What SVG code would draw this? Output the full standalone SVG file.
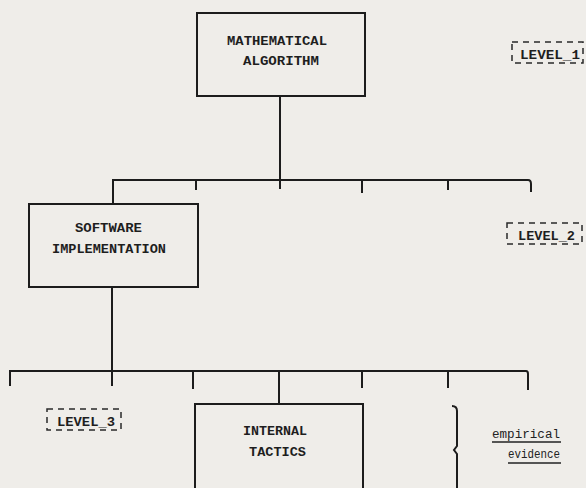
<svg xmlns="http://www.w3.org/2000/svg" width="586" height="488" viewBox="0 0 586 488">
  <style>
    .bg { fill: #efede9; }
    .box { fill: none; stroke: #1c1c1c; stroke-width: 2; }
    .dash { fill: none; stroke: #2a2a2a; stroke-width: 1.5; stroke-dasharray: 6 5; }
    .wire { fill: none; stroke: #1c1c1c; stroke-width: 2; }
    .lbl { font-family: "Liberation Mono", "DejaVu Sans Mono", monospace; font-size: 13px; fill: #1e1e1e; font-weight: bold; }
    .note { font-family: "Liberation Mono", "DejaVu Sans Mono", monospace; font-size: 12px; fill: #222; }
    .ul { stroke: #222; stroke-width: 1.3; }
  </style>
  <rect class="bg" x="0" y="0" width="586" height="488"/>

  <!-- level 1 -->
  <g id="node-algorithm">
    <rect class="box" x="197" y="13" width="168" height="83"/>
    <text class="lbl" x="227" y="45" textLength="100" lengthAdjust="spacingAndGlyphs">MATHEMATICAL</text>
    <text class="lbl" x="243" y="65" textLength="76" lengthAdjust="spacingAndGlyphs">ALGORITHM</text>
  </g>
  <g id="tag-level1">
    <rect class="dash" x="512" y="42" width="71" height="21"/>
    <text class="lbl" x="520" y="59" textLength="60" lengthAdjust="spacingAndGlyphs">LEVEL_1</text>
  </g>

  <!-- level 2 -->
  <g id="node-software">
    <rect class="box" x="29" y="204" width="169" height="83"/>
    <text class="lbl" x="75" y="232" textLength="67" lengthAdjust="spacingAndGlyphs">SOFTWARE</text>
    <text class="lbl" x="52" y="253" textLength="114" lengthAdjust="spacingAndGlyphs">IMPLEMENTATION</text>
  </g>
  <g id="tag-level2">
    <rect class="dash" x="507" y="223" width="75" height="21"/>
    <text class="lbl" x="518" y="240" textLength="57" lengthAdjust="spacingAndGlyphs">LEVEL_2</text>
  </g>

  <!-- level 3 -->
  <g id="node-tactics">
    <path class="box" d="M195,490 V404 H363 V490"/>
    <text class="lbl" x="243" y="435" textLength="64" lengthAdjust="spacingAndGlyphs">INTERNAL</text>
    <text class="lbl" x="249" y="456" textLength="57" lengthAdjust="spacingAndGlyphs">TACTICS</text>
  </g>
  <g id="tag-level3">
    <rect class="dash" x="47" y="409" width="74" height="21"/>
    <text class="lbl" x="57" y="426" textLength="58" lengthAdjust="spacingAndGlyphs">LEVEL_3</text>
  </g>
  <g id="note-evidence">
    <path class="wire" d="M452,406 Q457,406 457,411 V446 L454,450 L457,454 V490"/>
    <text class="note" x="492" y="438" textLength="68" lengthAdjust="spacingAndGlyphs">empirical</text>
    <line class="ul" x1="492" y1="442" x2="561" y2="442"/>
    <text class="note" x="508" y="458" textLength="52" lengthAdjust="spacingAndGlyphs">evidence</text>
    <line class="ul" x1="508" y1="463" x2="561" y2="463"/>
  </g>

  <!-- connectors -->
  <g id="connectors">
    <!-- level 1 to level 2 -->
    <path class="wire" d="M280,96 V189"/>
    <path class="wire" d="M113,204 V180 H528 Q531,180 531,184 V192"/>
    <path class="wire" d="M196,180 V190 M362,180 V193 M448,180 V190"/>
    <!-- level 2 to level 3 -->
    <path class="wire" d="M112,287 V386"/>
    <path class="wire" d="M10,386 V371 H526 Q528,371 528,374 V390"/>
    <path class="wire" d="M193,371 V389 M279,371 V404 M362,371 V388 M448,371 V388"/>
  </g>
</svg>
